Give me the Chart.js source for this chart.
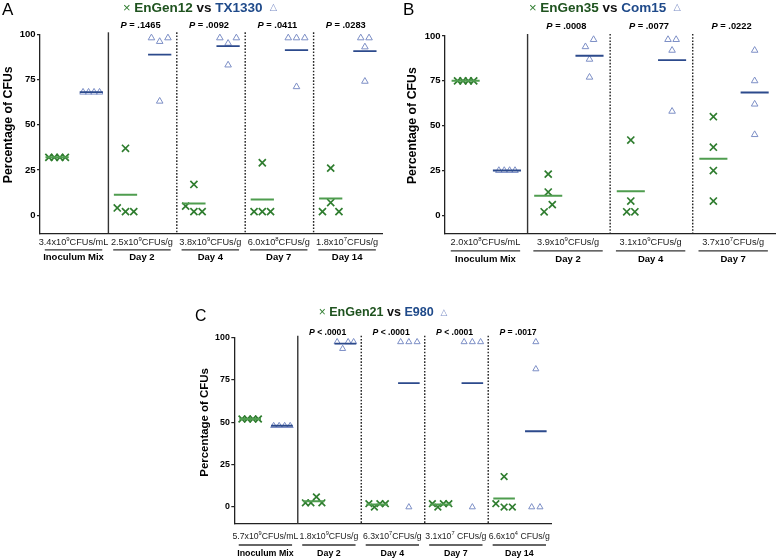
<!DOCTYPE html>
<html>
<head>
<meta charset="utf-8">
<script src="https://cdn.jsdelivr.net/npm/chart.js@4.4.0/dist/chart.umd.min.js"></script>
<style>
  html, body { margin: 0; padding: 0; background: #fff; }
  #wrap { position: relative; width: 782px; height: 560px; overflow: hidden; }
  canvas { position: absolute; }
</style>
</head>
<body>
<div id="wrap">
  <canvas id="cA" width="390" height="270" style="left:0;top:0"></canvas>
  <canvas id="cB" width="392" height="270" style="left:390px;top:0"></canvas>
  <canvas id="cC" width="420" height="280" style="left:180px;top:280px"></canvas>
</div>
<script>
// ---- data (percentage of CFUs, one value per mouse) ----
const yTicks = [0, 25, 50, 75, 100];

// panel A
const strainsA = ["EnGen12", "TX1330"];
const groupsA = ["Inoculum Mix", "Day 2", "Day 4", "Day 7", "Day 14"];
const cfuA = [["3.4x10", "9", "CFUs/mL"], ["2.5x10", "9", "CFUs/g"], ["3.8x10", "9", "CFUs/g"], ["6.0x10", "8", "CFUs/g"], ["1.8x10", "7", "CFUs/g"]];
const pA = ["P = .1465", "P = .0092", "P = .0411", "P = .0283"];
const engen12 = [[32, 32, 32, 32], [37, 4, 2, 2], [17, 5, 2, 2], [29, 2, 2, 2], [26, 2, 7, 2]];
const tx1330 = [[68, 68, 68, 68], [98, 96, 98, 63], [98, 95, 98, 83], [98, 98, 98, 71], [98, 98, 93, 74]];

// panel B
const strainsB = ["EnGen35", "Com15"];
const groupsB = ["Inoculum Mix", "Day 2", "Day 4", "Day 7"];
const cfuB = [["2.0x10", "8", "CFUs/mL"], ["3.9x10", "9", "CFUs/g"], ["3.1x10", "9", "CFUs/g"], ["3.7x10", "7", "CFUs/g"]];
const pB = ["P = .0008", "P = .0077", "P = .0222"];
const engen35 = [[75, 75, 75, 75], [23, 13, 2, 6], [42, 8, 2, 2], [55, 38, 25, 8]];
const com15 = [[25, 25, 25, 25], [94, 98, 87, 77], [98, 98, 92, 58], [92, 75, 62, 45]];

// panel C
const strainsC = ["EnGen21", "E980"];
const groupsC = ["Inoculum Mix", "Day 2", "Day 4", "Day 7", "Day 14"];
const cfuC = [["5.7x10", "9", "CFUs/mL"], ["1.8x10", "9", "CFUs/g"], ["6.3x10", "7", "CFUs/g"], ["3.1x10", "7", " CFUs/g"], ["6.6x10", "4", " CFUs/g"]];
const pC = ["P < .0001", "P < .0001", "P < .0001", "P = .0017"];
const engen21 = [[52, 52, 52, 52], [2.5, 2.5, 6, 2.5], [2, 0, 2, 2], [2, 0, 2, 2], [18, 2, 0, 0]];
const e980 = [[48, 48, 48, 48], [97.5, 93.5, 97.5, 97.5], [97.5, 97.5, 97.5, 0], [97.5, 97.5, 97.5, 0], [97.5, 81.5, 0, 0]];

// ---- style ----
const FONT = '"Liberation Sans", Arial, Helvetica, sans-serif';
const GREEN = "#2f7d2f";
const GREEN_MEAN = "#4f9d4f";
const GREEN_TITLE = "#1f531f";
const BLUE_TITLE = "#1f4a8a";
const TRI = "#7d8fc6";
const BLUE_MEAN = "#2c4a8c";
const Y_MIN = -10, Y_MAX = 100;
const STEP_PX = 8.3, MAX_ROW_PX = 16.5, MEAN_HALF = 0.17;

function mean(a) { return a.reduce((s, v) => s + v, 0) / a.length; }

// points that sit at about the same height are spread sideways, like a column scatter
function rowsOf(vals, thr) {
  const idx = vals.map((v, i) => i).sort((a, b) => vals[a] - vals[b]);
  const rows = [];
  let cur = [idx[0]];
  for (let j = 1; j < idx.length; j++) {
    if (vals[idx[j]] - vals[idx[j - 1]] < thr) cur.push(idx[j]);
    else { rows.push(cur); cur = [idx[j]]; }
  }
  rows.push(cur);
  return rows.map(r => r.sort((a, b) => a - b));
}

function dodge(vals, center, thr, unitPx) {
  const xs = [];
  rowsOf(vals, thr).forEach(r => {
    const gap = r.length > 1 ? Math.min(STEP_PX, MAX_ROW_PX / (r.length - 1)) : 0;
    r.forEach((i, k) => { xs[i] = center + (k - (r.length - 1) / 2) * gap / unitPx; });
  });
  return vals.map((v, i) => ({ x: xs[i], y: v }));
}

function runText(ctx, parts, cx, y) {
  let w = 0;
  parts.forEach(p => { ctx.font = p.font; p.w = ctx.measureText(p.t).width; w += p.w; });
  let x = cx - w / 2;
  ctx.textAlign = "left";
  ctx.textBaseline = "middle";
  parts.forEach(p => {
    ctx.font = p.font;
    ctx.fillStyle = p.color || "#000";
    ctx.fillText(p.t, x, y + (p.dy || 0));
    x += p.w;
  });
}

function decor(p) {
  const s = p.scale;
  return {
    id: "decor",
    beforeDatasetsDraw(chart) {
      const { ctx, chartArea: a, scales: { x } } = chart;
      for (let g = 1; g < p.groups.length; g++) {
        const px = x.getPixelForValue(g);
        ctx.save();
        ctx.strokeStyle = g === 1 ? "#333" : "#222";
        ctx.lineWidth = 1.4;
        ctx.setLineDash(g === 1 ? [] : [1.6, 1.6]);
        ctx.beginPath();
        ctx.moveTo(px, a.top - 2);
        ctx.lineTo(px, a.bottom);
        ctx.stroke();
        ctx.restore();
      }
    },
    afterDraw(chart) {
      const { ctx, chartArea: a, scales: { x, y } } = chart;
      ctx.save();
      // p values
      p.pvals.forEach((t, i) => {
        runText(ctx, [
          { t: t[0], font: `italic bold ${9.3 * s}px ${FONT}` },
          { t: t.slice(1), font: `bold ${9.3 * s}px ${FONT}` }
        ], x.getPixelForValue(i + 1.47), a.top + p.pY);
      });
      // cfu counts, underline, group names
      p.groups.forEach((name, g) => {
        const cx = x.getPixelForValue(g + 0.49);
        const c = p.cfu[g];
        const f = p.cfuFont;
        runText(ctx, [
          { t: c[0], font: `${f}px ${FONT}`, color: "#222" },
          { t: c[1], font: `${f * 0.65}px ${FONT}`, color: "#222", dy: -f * 0.4 },
          { t: c[2], font: `${f}px ${FONT}`, color: "#222" }
        ], cx, a.bottom + p.labY[0]);
        ctx.strokeStyle = "#333";
        ctx.lineWidth = 1.3;
        ctx.beginPath();
        ctx.moveTo(x.getPixelForValue(g + 0.07), a.bottom + p.labY[1]);
        ctx.lineTo(x.getPixelForValue(g + 0.91), a.bottom + p.labY[1]);
        ctx.stroke();
        runText(ctx, [{ t: name, font: `bold ${9.5 * s}px ${FONT}` }], cx, a.bottom + p.labY[2]);
      });
      // title
      runText(ctx, [
        { t: "\u00d7 ", font: `${13 * s}px ${FONT}`, color: GREEN },
        { t: p.strains[0], font: `bold ${13.5 * s}px ${FONT}`, color: GREEN_TITLE },
        { t: " vs ", font: `bold ${13.5 * s}px ${FONT}`, color: "#111" },
        { t: p.strains[1], font: `bold ${13.5 * s}px ${FONT}`, color: BLUE_TITLE },
        { t: "  ", font: `${13 * s}px ${FONT}` },
        { t: "\u25b3", font: `${9.5 * s}px "DejaVu Sans", ${FONT}`, color: TRI }
      ], p.titleX, p.titleY);
      // panel letter
      ctx.font = `${17 * s}px ${FONT}`;
      ctx.fillStyle = "#000";
      ctx.textAlign = "left";
      ctx.textBaseline = "middle";
      ctx.fillText(p.letter, p.letterX, p.letterY);
      // y title
      ctx.translate(p.yTitleX, y.getPixelForValue(50));
      ctx.rotate(-Math.PI / 2);
      ctx.font = `bold ${12.3 * s}px ${FONT}`;
      ctx.textAlign = "center";
      ctx.fillText("Percentage of CFUs", 0, 0);
      ctx.restore();
    }
  };
}

function buildPanel(p) {
  const n = p.groups.length;
  const unitPx = (p.w - p.axisW - p.padR) / n;
  const crossPts = [], triPts = [], gMean = [], bMean = [];
  p.a.forEach((vals, g) => {
    crossPts.push(...dodge(vals, g + 0.25, 5.5, unitPx));
    const m = mean(vals);
    gMean.push({ x: g + 0.25 - MEAN_HALF, y: m }, { x: g + 0.25 + MEAN_HALF, y: m }, { x: g + 0.5, y: null });
  });
  p.b.forEach((vals, g) => {
    triPts.push(...dodge(vals, g + 0.75, 4.5, unitPx));
    const m = mean(vals);
    bMean.push({ x: g + 0.75 - MEAN_HALF, y: m }, { x: g + 0.75 + MEAN_HALF, y: m }, { x: g + 1, y: null });
  });

  new Chart(document.getElementById(p.id), {
    type: "scatter",
    data: {
      datasets: [
        { type: "line", data: gMean, borderColor: GREEN_MEAN, borderWidth: 2, pointRadius: 0, spanGaps: false, clip: false },
        { type: "line", data: bMean, borderColor: BLUE_MEAN, borderWidth: 1.8, pointRadius: 0, spanGaps: false, clip: false },
        { data: crossPts, pointStyle: "crossRot", pointRadius: p.crossR, borderColor: GREEN, borderWidth: 1.7, backgroundColor: "transparent", clip: false },
        { data: triPts, pointStyle: "triangle", pointRadius: p.triR, borderColor: TRI, borderWidth: 1, backgroundColor: "transparent", clip: false }
      ]
    },
    options: {
      responsive: false,
      animation: false,
      events: [],
      layout: { padding: { top: p.padT, right: p.padR, bottom: p.padB, left: 0 } },
      plugins: { legend: { display: false }, tooltip: { enabled: false } },
      scales: {
        x: {
          type: "linear", min: 0, max: n,
          ticks: { display: false },
          grid: { display: false },
          border: { display: true, color: "#222", width: 1.3 },
          afterFit(sc) { sc.height = 0; }
        },
        y: {
          min: Y_MIN, max: Y_MAX,
          afterBuildTicks(sc) { sc.ticks = yTicks.map(v => ({ value: v })); },
          ticks: { color: "#000", padding: 1.5, font: { family: FONT, size: 9.5 * p.scale, weight: "bold" } },
          grid: { display: true, drawOnChartArea: false, drawTicks: true, tickLength: 3, color: "#222", lineWidth: 1.2 },
          border: { display: true, color: "#222", width: 1.3 },
          afterFit(sc) { sc.width = p.axisW; }
        }
      }
    },
    plugins: [decor(p)]
  });
}

buildPanel({
  id: "cA", w: 390, h: 270, axisW: 40, padT: 34.3, padR: 8, padB: 36.7, scale: 1,
  groups: groupsA, cfu: cfuA, pvals: pA, a: engen12, b: tx1330, strains: strainsA,
  crossR: 5, triR: 3.8, cfuFont: 9.2, labY: [9.5, 16.5, 24.5], pY: -9.3,
  titleX: 200, titleY: 8, letter: "A", letterX: 2, letterY: 10, yTitleX: 9
});
buildPanel({
  id: "cB", w: 392, h: 270, axisW: 55, padT: 36, padR: 0, padB: 36.7, scale: 1,
  groups: groupsB, cfu: cfuB, pvals: pB, a: engen35, b: com15, strains: strainsB,
  crossR: 5, triR: 3.8, cfuFont: 9.2, labY: [9.5, 17.5, 26], pY: -9.3,
  titleX: 215, titleY: 8, letter: "B", letterX: 13, letterY: 10, yTitleX: 23
});
buildPanel({
  id: "cC", w: 420, h: 280, axisW: 54.3, padT: 57.7, padR: 48.3, padB: 36, scale: 0.93,
  groups: groupsC, cfu: cfuC, pvals: pC, a: engen21, b: e980, strains: strainsC,
  crossR: 4.7, triR: 3.5, cfuFont: 8.7, labY: [12.5, 21, 30], pY: -5.4,
  titleX: 203, titleY: 32.3, letter: "C", letterX: 15, letterY: 36.7, yTitleX: 25
});
</script>
</body>
</html>
